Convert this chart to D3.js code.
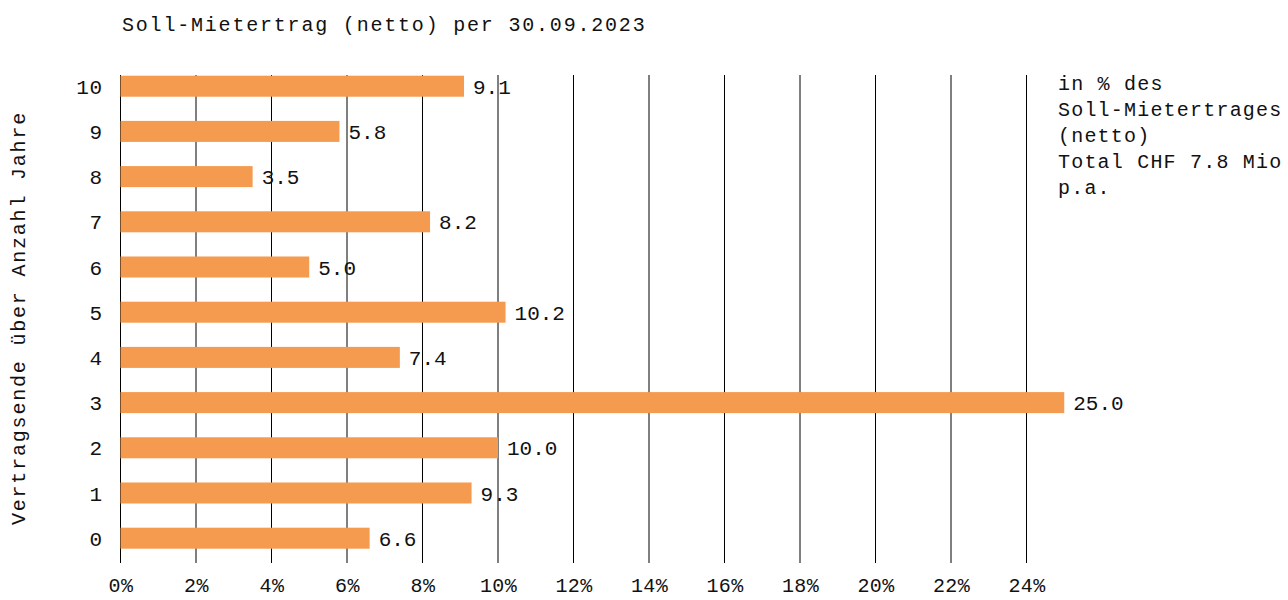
<!DOCTYPE html>
<html>
<head>
<meta charset="utf-8">
<script src="https://cdn.jsdelivr.net/npm/d3@7"></script>
<style>
  html, body { margin: 0; padding: 0; background: #fff; }
  svg { display: block; font-family: "Liberation Mono", "DejaVu Sans Mono", monospace; }
</style>
</head>
<body>
<svg id="chart" width="1288" height="600"></svg>
<script>
// Remaining contract term in years and share of net target rent (%)
const years = [10, 9, 8, 7, 6, 5, 4, 3, 2, 1, 0];
const shares = [9.1, 5.8, 3.5, 8.2, 5.0, 10.2, 7.4, 25.0, 10.0, 9.3, 6.6];
const xTicks = [0, 2, 4, 6, 8, 10, 12, 14, 16, 18, 20, 22, 24];
const title = "Soll-Mietertrag (netto) per 30.09.2023";
const yTitle = "Vertragsende über Anzahl Jahre";
const noteLines = ["in % des", "Soll-Mietertrages", "(netto)", "Total CHF 7.8 Mio", "p.a."];

const rows = years.map((y, i) => ({ year: y, value: shares[i] }));

const svg = d3.select("#chart");
const barColor = "#F59B4F";
const mono = "Liberation Mono, DejaVu Sans Mono, monospace";

const x = d3.scaleLinear().domain([0, 24]).range([120.5, 1026.5]);
const y = d3.scaleBand()
  .domain(years)
  .range([75.7, 548.7])
  .paddingInner(0.535)
  .paddingOuter(0);

const gridTop = 75, gridBottom = 563;

// vertical grid lines
svg.append("g")
  .selectAll("line")
  .data(xTicks)
  .join("line")
  .attr("x1", d => x(d)).attr("x2", d => x(d))
  .attr("y1", gridTop).attr("y2", gridBottom)
  .attr("stroke", "#000")
  .attr("stroke-width", 1);

// bars
svg.append("g")
  .selectAll("rect")
  .data(rows)
  .join("rect")
  .attr("x", x(0))
  .attr("y", d => y(d.year))
  .attr("width", d => x(d.value) - x(0))
  .attr("height", y.bandwidth())
  .attr("fill", barColor);

// value labels
svg.append("g")
  .selectAll("text")
  .data(rows)
  .join("text")
  .attr("x", d => x(d.value) + 9)
  .attr("y", d => y(d.year) + y.bandwidth() / 2)
  .attr("dy", "0.36em")
  .attr("font-size", 21)
  .attr("letter-spacing", 0)
  .attr("fill", "#111")
  .text(d => d.value.toFixed(1));

// y axis labels
const yAxis = d3.axisLeft(y).tickSize(0).tickPadding(0);
svg.append("g")
  .attr("transform", "translate(103,0)")
  .call(yAxis)
  .call(g => g.select(".domain").remove())
  .call(g => g.selectAll("text")
    .attr("font-size", 21)
    .attr("font-family", mono)
    .attr("letter-spacing", 0.8)
    .attr("fill", "#111")
    .attr("dy", "0.36em"));

// x axis labels
const xAxis = d3.axisBottom(x).tickValues(xTicks).tickSize(0).tickPadding(0)
  .tickFormat(d => d + "%");
svg.append("g")
  .attr("transform", "translate(0,586)")
  .call(xAxis)
  .call(g => g.select(".domain").remove())
  .call(g => g.selectAll("text")
    .attr("font-size", 20)
    .attr("font-family", mono)
    .attr("letter-spacing", 0.4)
    .attr("fill", "#111")
    .attr("dy", "0.3em"));

// chart title
svg.append("text")
  .attr("x", 122)
  .attr("y", 31)
  .attr("font-size", 20)
  .attr("letter-spacing", 1.8)
  .attr("fill", "#111")
  .text(title);

// rotated y axis title
svg.append("text")
  .attr("transform", "translate(25,318) rotate(-90)")
  .attr("text-anchor", "middle")
  .attr("font-size", 20)
  .attr("letter-spacing", 1.8)
  .attr("fill", "#111")
  .text(yTitle);

// unit note at the upper right
svg.append("g")
  .selectAll("text")
  .data(noteLines)
  .join("text")
  .attr("x", 1058)
  .attr("y", (d, i) => 90 + i * 26)
  .attr("font-size", 20)
  .attr("letter-spacing", 1.2)
  .attr("fill", "#111")
  .text(d => d);
</script>
</body>
</html>
